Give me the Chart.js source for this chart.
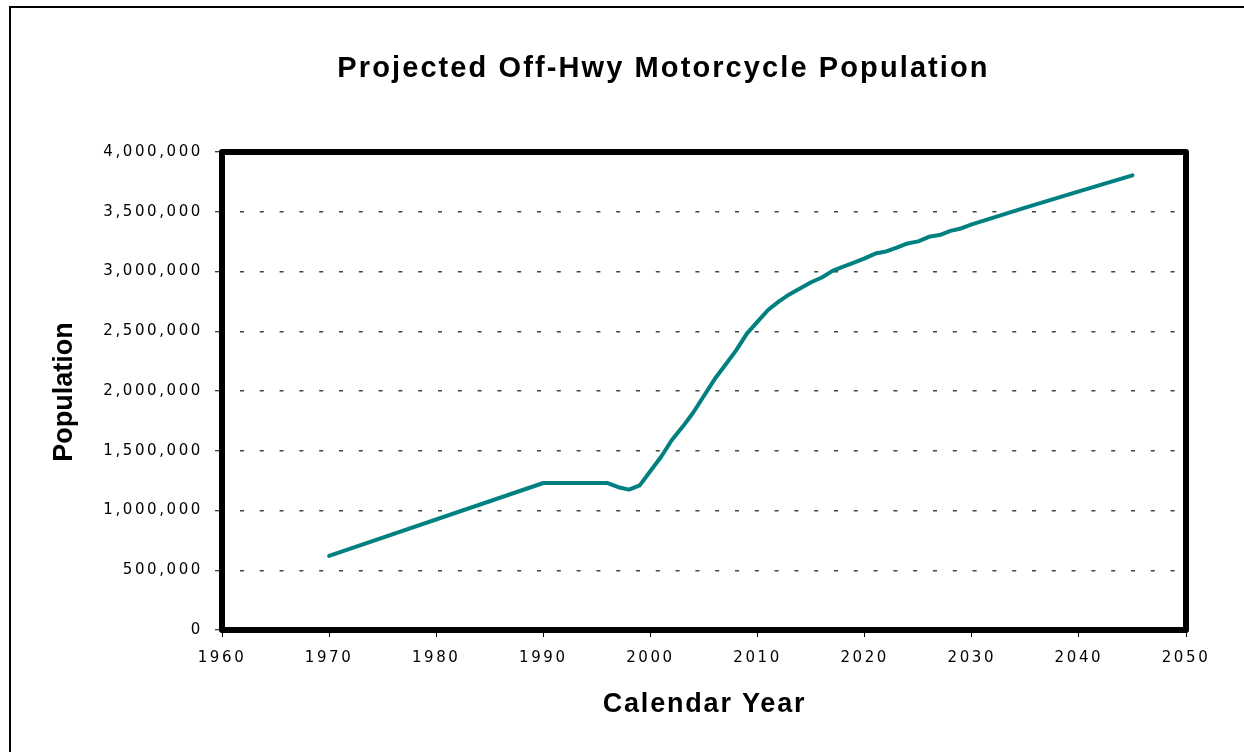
<!DOCTYPE html>
<html><head><meta charset="utf-8">
<script src="https://cdn.jsdelivr.net/npm/chart.js@4.4.1/dist/chart.umd.min.js"></script>
<style>html,body{margin:0;padding:0;background:#fff;overflow:hidden}#wrap{position:relative;width:1244px;height:752px}</style>
</head><body><div id="wrap"><canvas id="c" width="1244" height="752"></canvas></div>
<script>
const chartTitle = 'Projected Off-Hwy Motorcycle Population';
const xAxisTitle = 'Calendar Year';
const yAxisTitle = 'Population';
const years = [1970,1990,1996,1997,1998,1999,2000,2001,2002,2003,2004,2005,2006,2007,2008,2009,2010,2011,2012,2013,2014,2015,2016,2017,2018,2019,2020,2021,2022,2023,2024,2025,2026,2027,2028,2029,2030,2035,2040,2045];
const population = [620000,1230000,1230000,1195000,1175000,1210000,1330000,1450000,1590000,1700000,1820000,1960000,2100000,2220000,2340000,2480000,2580000,2680000,2750000,2810000,2860000,2910000,2950000,3005000,3040000,3075000,3110000,3150000,3168000,3200000,3235000,3252000,3290000,3305000,3340000,3360000,3395000,3535000,3670000,3805000];
const xTicks = [1960,1970,1980,1990,2000,2010,2020,2030,2040,2050];
const yTicks = [0,500000,1000000,1500000,2000000,2500000,3000000,3500000,4000000];

const decor = {
  id: 'decor',
  beforeDraw(chart) {
    const ctx = chart.ctx;
    ctx.save();
    ctx.fillStyle = '#fff';
    ctx.fillRect(0, 0, chart.width, chart.height);
    ctx.fillStyle = '#000';
    ctx.fillRect(9, 6, 2, chart.height - 6);
    ctx.fillRect(9, 6, chart.width - 9, 2);
    ctx.restore();
    ctx.letterSpacing = '2.6px';
  },
  afterDraw(chart) {
    const ctx = chart.ctx;
    const a = chart.chartArea;
    ctx.save();
    ctx.strokeStyle = '#000';
    ctx.lineWidth = 6;
    ctx.lineJoin = 'round';
    ctx.strokeRect(a.left, a.top, a.right - a.left, a.bottom - a.top);
    ctx.fillStyle = '#000';
    ctx.textAlign = 'center';
    ctx.textBaseline = 'alphabetic';
    ctx.font = 'bold 29px "Liberation Sans", Arial, sans-serif';
    ctx.letterSpacing = '2.1px';
    ctx.fillText(chartTitle, 663.5, 77);
    ctx.font = 'bold 27px "Liberation Sans", Arial, sans-serif';
    ctx.letterSpacing = '1.8px';
    ctx.fillText(xAxisTitle, (a.left + a.right) / 2 + 0.5, 712);
    ctx.letterSpacing = '0px';
    ctx.translate(72, (a.top + a.bottom) / 2 + 1);
    ctx.rotate(-Math.PI / 2);
    ctx.fillText(yAxisTitle, 0, 0);
    ctx.restore();
    ctx.letterSpacing = '0px';
  }
};

const tickFont = { family: '"DejaVu Sans", Verdana, sans-serif', size: 15 };

new Chart(document.getElementById('c'), {
  type: 'line',
  data: {
    datasets: [{
      label: yAxisTitle,
      data: years.map((y, i) => ({ x: y, y: population[i] })),
      borderColor: '#008080',
      borderWidth: 4,
      pointRadius: 0,
      tension: 0,
      borderCapStyle: 'round',
      borderJoinStyle: 'round',
      fill: false
    }]
  },
  options: {
    responsive: false,
    animation: false,
    devicePixelRatio: 1,
    layout: { padding: { left: 0, top: 152, right: 58, bottom: 0 } },
    plugins: { legend: { display: false }, title: { display: false }, tooltip: { enabled: false } },
    scales: {
      x: {
        type: 'linear',
        min: 1960, max: 2050,
        afterBuildTicks(s) { s.ticks = xTicks.map(v => ({ value: v })); },
        afterFit(s) { s.height = 752 - 630; },
        ticks: { color: '#000', font: tickFont, padding: 12, autoSkip: false, maxRotation: 0, callback: v => String(v) },
        grid: { display: true, drawOnChartArea: false, drawTicks: true, tickLength: 7, tickColor: '#000', tickWidth: 1 },
        border: { display: false }
      },
      y: {
        type: 'linear',
        min: 0, max: 4000000,
        afterBuildTicks(s) { s.ticks = yTicks.map(v => ({ value: v })); },
        afterFit(s) { s.width = 222; },
        ticks: { color: '#000', font: tickFont, padding: 12, callback: v => Number(v).toLocaleString('en-US') },
        grid: { display: true, drawOnChartArea: true, drawTicks: true, color: '#444', lineWidth: 1.5, tickLength: 7, tickColor: '#000', tickWidth: 1, tickBorderDash: [1, 0] },
        border: { display: false, dash: [4, 15.8], dashOffset: 1.8 }
      }
    }
  },
  plugins: [decor]
});
</script>
</body></html>
